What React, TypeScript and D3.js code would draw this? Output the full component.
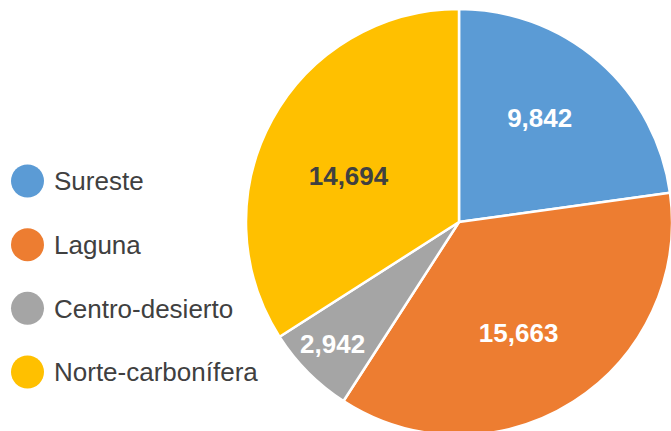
import React from "react";
import * as d3 from "d3";

const categories = ["Sureste", "Laguna", "Centro-desierto", "Norte-carbonífera"];
const values = [9842, 15663, 2942, 14694];
const colors = ["#5B9BD5", "#ED7D31", "#A5A5A5", "#FFC000"];
const labelColors = ["#FFFFFF", "#FFFFFF", "#FFFFFF", "#404040"];

const W = 671;
const H = 431;
const cx = 459;
const cy = 222;
const R = 213;

// label placement: radius fraction and angular shift (degrees) from the slice bisector
const labelFrac = [0.62, 0.59, 0.825, 0.562];
const labelShift = [-3.4, 4.2, 0.9, -6.1];

export default function App() {
  const pie = d3.pie<number>().sort(null).value((d) => d)(values);
  const arc = d3.arc<d3.PieArcDatum<number>>().innerRadius(0).outerRadius(R);
  const fmt = d3.format(",");
  const legendY = d3.scalePoint<string>().domain(categories).range([181, 372]);

  return (
    <svg
      width={W}
      height={H}
      style={{ position: "absolute", left: 0, top: 0, background: "#fff" }}
      fontFamily="'Liberation Sans', Arial, sans-serif"
    >
      <rect width={W} height={H} fill="#fff" />
      <g transform={`translate(${cx},${cy})`}>
        {pie.map((p, i) => (
          <path key={i} d={arc(p) || ""} fill={colors[i]} stroke="#fff" strokeWidth={2.5} strokeLinejoin="round" />
        ))}
        {pie.map((p, i) => {
          const a = (p.startAngle + p.endAngle) / 2 + (labelShift[i] * Math.PI) / 180;
          const r = R * labelFrac[i];
          const x = Math.sin(a) * r;
          const y = -Math.cos(a) * r;
          return (
            <text
              key={"l" + i}
              x={x}
              y={y}
              dy="0.36em"
              textAnchor="middle"
              fontSize={26}
              fontWeight="bold"
              fill={labelColors[i]}
            >
              {fmt(values[i])}
            </text>
          );
        })}
      </g>
      {categories.map((c, i) => (
        <g key={c} transform={`translate(0,${legendY(c)})`}>
          <circle cx={27.5} cy={0} r={16.5} fill={colors[i]} />
          <text x={54} y={0} dy="0.36em" fontSize={26} fill="#404040">
            {c}
          </text>
        </g>
      ))}
    </svg>
  );
}
